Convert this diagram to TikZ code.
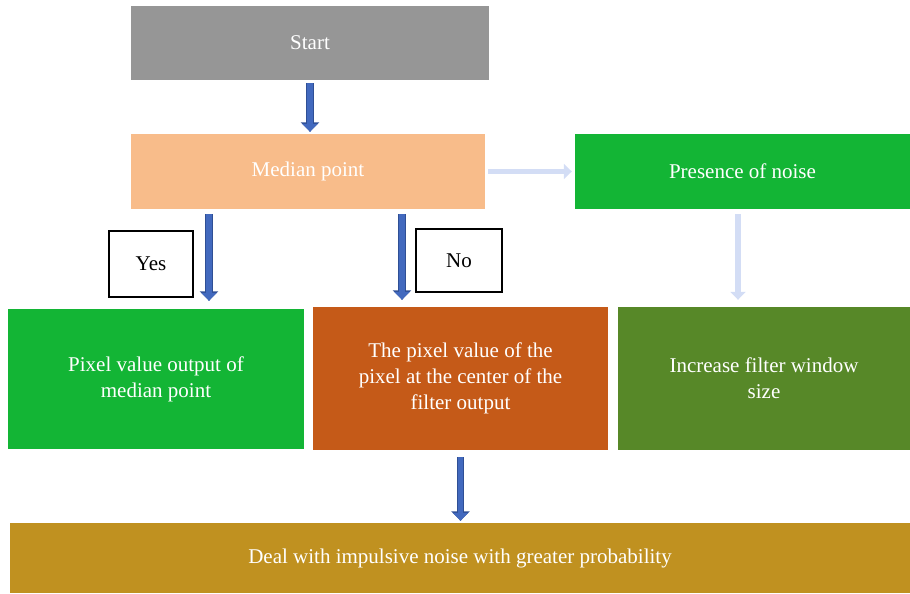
\documentclass[tikz,border=0pt]{standalone}
\usepackage{fontspec}
\setmainfont{Liberation Serif}
\usetikzlibrary{arrows.meta}

\definecolor{startgray}{HTML}{969696}
\definecolor{medianpeach}{HTML}{F8BC8A}
\definecolor{noisegreen}{HTML}{13B535}
\definecolor{centerorange}{HTML}{C55A18}
\definecolor{windowgreen}{HTML}{578828}
\definecolor{dealgold}{HTML}{C09120}
\definecolor{arrowblue}{HTML}{4269BE}
\definecolor{arrowedge}{HTML}{2F4F95}
\definecolor{arrowpale}{HTML}{D3DDF5}

\tikzset{
  stepbox/.style={rectangle, inner sep=4pt, align=center, text=white,
    font=\fontsize{21}{26}\selectfont},
  labelbox/.style={rectangle, draw=black, line width=1.3pt, fill=white,
    font=\fontsize{21}{26}\selectfont},
  bluearrow/.style={draw=arrowblue, line width=5.5pt,
    -{Triangle[width=15pt,length=8pt]},
    preaction={draw=arrowedge, line width=7.5pt, -{Triangle[width=18pt,length=9.5pt]}}},
  palearrow/.style={draw=arrowpale, line width=5.5pt,
    -{Triangle[width=15pt,length=8pt]}}
}

\begin{document}
\begin{tikzpicture}[x=1pt,y=-1pt]
  \useasboundingbox (0,0) rectangle (910,594);

  % boxes
  \node[stepbox, fill=startgray, minimum width=358pt, minimum height=74pt] (start) at (310,43) {Start};
  \node[stepbox, fill=medianpeach, minimum width=354pt, minimum height=75pt] (median) at (308,171.5) {Median point};
  \node[stepbox, fill=noisegreen, minimum width=335pt, minimum height=75pt] (noise) at (742.5,171.5) {Presence of noise};
  \node[stepbox, fill=noisegreen, minimum width=296pt, minimum height=140pt] (pixel) at (156,379) {Pixel value output of\\median point};
  \node[stepbox, fill=centerorange, minimum width=295pt, minimum height=143pt] (center) at (460.5,378.5) {The pixel value of the\\pixel at the center of the\\filter output};
  \node[stepbox, fill=windowgreen, minimum width=292pt, minimum height=143pt] (window) at (764,378.5) {Increase filter window\\size};
  \node[stepbox, fill=dealgold, minimum width=900pt, minimum height=70pt] (deal) at (460,558) {Deal with impulsive noise with greater probability};

  % yes / no
  \node[labelbox, minimum width=84pt, minimum height=66pt] (yes) at (151,264) {Yes};
  \node[labelbox, minimum width=86pt, minimum height=63pt] (no) at (459,260.5) {No};

  % arrows
  \draw[bluearrow, shorten <=3pt, shorten >=2pt] (start.south) -- (start.south |- median.north);
  \draw[bluearrow, shorten <=5pt, shorten >=8pt] ([xshift=-99pt]median.south) -- ([xshift=-99pt]median.south |- pixel.north);
  \draw[bluearrow, shorten <=5pt, shorten >=7pt] ([xshift=94pt]median.south) -- ([xshift=94pt]median.south |- center.north);
  \draw[bluearrow, shorten <=7pt, shorten >=2pt] (center.south) -- (center.south |- deal.north);
  \draw[palearrow, shorten <=3pt, shorten >=3pt] (median.east) -- (noise.west);
  \draw[palearrow, shorten <=5pt, shorten >=7pt] ([xshift=-4.5pt]noise.south) -- ([xshift=-4.5pt]noise.south |- window.north);
\end{tikzpicture}
\end{document}
